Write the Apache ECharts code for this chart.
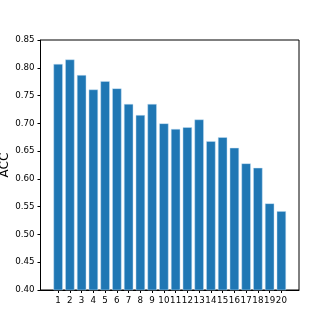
<!DOCTYPE html>
<html>
<head>
<meta charset="utf-8">
<script src="https://cdn.jsdelivr.net/npm/echarts@6/dist/echarts.min.js"></script>
<style>
  html, body { margin: 0; padding: 0; background: #fff; }
  #chart { width: 332px; height: 332px; }
</style>
</head>
<body>
<div id="chart"></div>
<script>
const positions = [1, 2, 3, 4, 5, 6, 7, 8, 9, 10, 11, 12, 13, 14, 15, 16, 17, 18, 19, 20]
const accValues = [0.807, 0.815, 0.787, 0.761, 0.776, 0.763, 0.735, 0.715, 0.735, 0.700,
  0.690, 0.693, 0.707, 0.668, 0.675, 0.656, 0.628, 0.620, 0.556, 0.542]
const yTicks = [0.40, 0.45, 0.50, 0.55, 0.60, 0.65, 0.70, 0.75, 0.80, 0.85]

// one empty slot on each side, like the padded xlim of the original
const categories = ['', ...positions.map(String), '']
const barData = [null, ...accValues, null]

const font = 'DejaVu Sans'
const chart = echarts.init(document.getElementById('chart'), null, { renderer: 'canvas' })

const isRealTick = (idx) => idx > 0 && idx < categories.length - 1

const option = {
  animation: false,
  grid: {
    left: 40.5,
    right: 33,
    top: 40,
    bottom: 42,
    outerBoundsMode: 'none',
    containLabel: false,
    show: true,
    borderColor: '#000',
    borderWidth: 1,
  },
  xAxis: {
    type: 'category',
    data: categories,
    boundaryGap: true,
    axisLine: { show: true, lineStyle: { color: '#000', width: 1 } },
    axisTick: {
      show: true,
      length: 3,
      alignWithLabel: true,
      interval: (idx) => isRealTick(idx),
      lineStyle: { color: '#000' },
    },
    axisLabel: {
      interval: 0,
      margin: 6,
      color: '#000',
      fontFamily: font,
      fontSize: 8.7,
    },
  },
  yAxis: {
    type: 'value',
    min: 0.4,
    max: 0.85,
    interval: 0.05,
    name: 'ACC',
    nameLocation: 'middle',
    nameGap: 30,
    nameMoveOverlap: false,
    nameTextStyle: { color: '#000', fontFamily: font, fontSize: 12 },
    splitLine: { show: false },
    axisLine: { show: true, onZero: false, lineStyle: { color: '#000', width: 1 } },
    axisTick: { show: true, length: 3, lineStyle: { color: '#000' } },
    axisLabel: {
      customValues: yTicks,
      margin: 6,
      color: '#000',
      fontFamily: font,
      fontSize: 8.7,
      formatter: (v) => v.toFixed(2),
    },
  },
  series: [
    {
      type: 'bar',
      data: barData,
      barWidth: 9.4,
      itemStyle: {
        color: '#1f77b4',
        borderColor: 'rgba(200, 225, 245, 0.8)',
        borderWidth: 0.6,
      },
    },
  ],
}

chart.setOption(option)
</script>
</body>
</html>
